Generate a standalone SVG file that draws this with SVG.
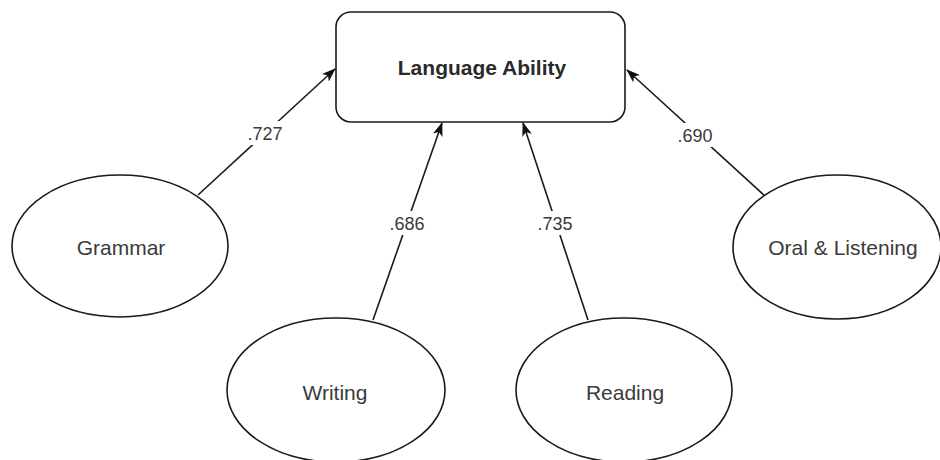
<svg xmlns="http://www.w3.org/2000/svg" width="940" height="460" viewBox="0 0 940 460">
  <style>
    .node { fill: #ffffff; stroke: #1a1a1a; stroke-width: 1.6; }
    .name { font-family: "Liberation Sans", Arial, sans-serif; font-size: 21px; fill: #3a3a3a; text-anchor: middle; }
    .title { font-weight: bold; fill: #2a2a2a; }
    .edge { stroke: #1a1a1a; stroke-width: 1.6; fill: none; marker-end: url(#arrow); }
    .weight { font-family: "Liberation Sans", Arial, sans-serif; font-size: 18px; fill: #3a3a3a; text-anchor: middle; }
    .pad { fill: #ffffff; }
  </style>
  <defs>
    <marker id="arrow" viewBox="0 0 14 10" refX="13" refY="5" markerWidth="14" markerHeight="10" markerUnits="userSpaceOnUse" orient="auto">
      <path d="M0,0 L14,5 L0,10 L3.5,5 Z" fill="#111111"/>
    </marker>
  </defs>
  <rect width="940" height="460" fill="#ffffff"/>

  <g id="connectors">
    <line class="edge" x1="198" y1="195" x2="335" y2="69"/>
    <line class="edge" x1="373" y1="320" x2="442" y2="123"/>
    <line class="edge" x1="588" y1="320" x2="523" y2="123"/>
    <line class="edge" x1="765" y1="196" x2="627" y2="70"/>
    <!-- weight labels sit on a white patch that breaks the line -->
    <rect class="pad" x="244" y="121" width="42" height="24"/>
    <text class="weight" x="265" y="140">.727</text>
    <rect class="pad" x="386" y="211" width="42" height="24"/>
    <text class="weight" x="407" y="230">.686</text>
    <rect class="pad" x="534" y="211" width="42" height="24"/>
    <text class="weight" x="555" y="230">.735</text>
    <rect class="pad" x="674" y="123" width="42" height="24"/>
    <text class="weight" x="695" y="142">.690</text>
  </g>

  <g id="language-ability">
    <rect class="node" x="336" y="12" width="289" height="110" rx="15" ry="15"/>
    <text class="name title" x="482" y="75">Language Ability</text>
  </g>

  <g id="grammar">
    <ellipse class="node" cx="120" cy="246" rx="108" ry="71"/>
    <text class="name" x="121" y="255">Grammar</text>
  </g>

  <g id="writing">
    <ellipse class="node" cx="336" cy="390" rx="109" ry="72"/>
    <text class="name" x="335" y="400">Writing</text>
  </g>

  <g id="reading">
    <ellipse class="node" cx="624" cy="390" rx="108" ry="72"/>
    <text class="name" x="625" y="400">Reading</text>
  </g>

  <g id="oral-listening">
    <ellipse class="node" cx="837" cy="247" rx="104" ry="72"/>
    <text class="name" x="843" y="255">Oral &amp; Listening</text>
  </g>
</svg>
